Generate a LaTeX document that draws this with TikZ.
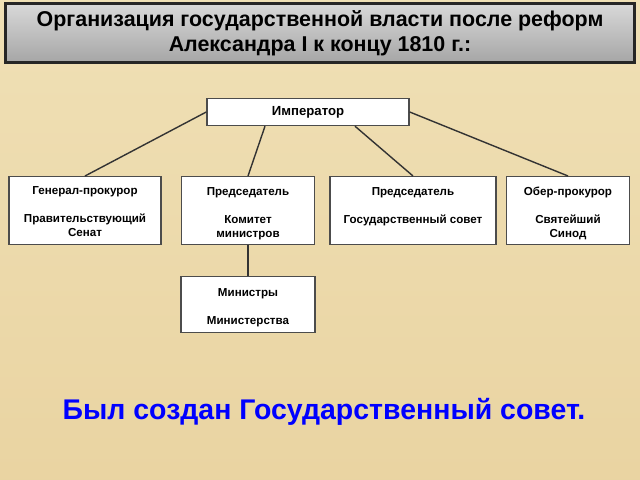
\documentclass[tikz,border=0pt]{standalone}
\usepackage{fontspec}
\setmainfont{Liberation Sans}
\begin{document}
\begin{tikzpicture}[x=0.02cm,y=-0.02cm,
  box/.style={draw=black!70,line width=0.8pt,fill=white,align=center,font=\bfseries\fontsize{6.6}{8}\selectfont,inner sep=2pt},
  txt/.style={align=center,font=\bfseries\fontsize{6.6}{8}\selectfont,anchor=north},
  conn/.style={draw=black!80,line width=0.8pt}]
\fill[top color=yellow!30!brown!35!white,bottom color=yellow!25!brown!45!white] (0,0) rectangle (640,480);
\useasboundingbox (0,0) rectangle (640,480);
\node[draw=black!85,line width=1.5pt,top color=white!85!black,bottom color=black!35,minimum width=629*0.02cm,minimum height=59*0.02cm,align=center,font=\bfseries\fontsize{12.2}{14.5}\selectfont] (title) at (320,33) {Организация государственной власти после реформ\\Александра I к концу 1810 г.:};
\node[box,minimum width=202*0.02cm,minimum height=27*0.02cm,font=\bfseries\fontsize{7.5}{9}\selectfont] (emp) at (308,112) {Император};
\node[box,minimum width=152*0.02cm,minimum height=68*0.02cm,anchor=north] (b1) at (85,176) {};
\node[txt] at (85,180) {Генерал-прокурор\\[8pt]Правительствующий\\Сенат};
\node[box,minimum width=133*0.02cm,minimum height=68*0.02cm,anchor=north] (b2) at (248,176) {};
\node[txt] at (248,181) {Председатель\\[8pt]Комитет\\министров};
\node[box,minimum width=166*0.02cm,minimum height=68*0.02cm,anchor=north] (b3) at (413,176) {};
\node[txt] at (413,181) {Председатель\\[8pt]Государственный совет};
\node[box,minimum width=123*0.02cm,minimum height=68*0.02cm,anchor=north] (b4) at (568,176) {};
\node[txt] at (568,181) {Обер-прокурор\\[8pt]Святейший\\Синод};
\node[box,minimum width=134*0.02cm,minimum height=56*0.02cm,anchor=north] (m) at (248,276) {};
\node[txt] at (248,282) {Министры\\[8pt]Министерства};
\draw[conn] (emp.west) -- (b1.north);
\draw[conn] ([xshift=-43*0.02cm]emp.south) -- (b2.north);
\draw[conn] ([xshift=47*0.02cm]emp.south) -- (b3.north);
\draw[conn] (emp.east) -- (b4.north);
\draw[conn] (b2.south) -- (m.north);
\node[font=\bfseries\fontsize{16.2}{19}\selectfont,text=blue] (note) at (324,412) {Был создан Государственный совет.};
\end{tikzpicture}
\end{document}
